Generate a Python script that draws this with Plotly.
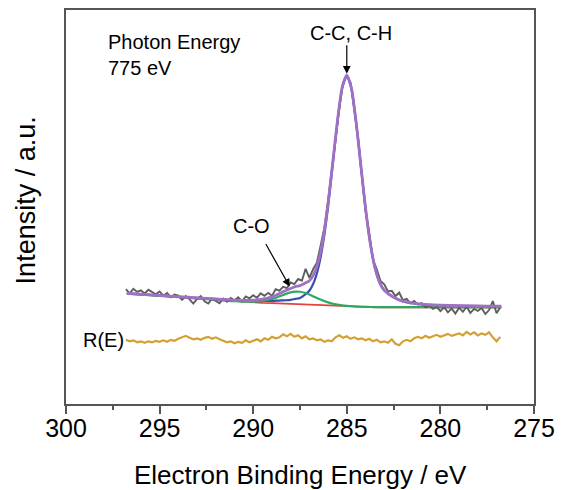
import plotly.graph_objects as go

# Measured spectrum (binding energy, eV) and intensity (a.u.)
energy = [296.8, 296.6, 296.4, 296.2, 296.0, 295.8, 295.6, 295.4, 295.2, 295.0,
          294.8, 294.6, 294.4, 294.2, 294.0, 293.8, 293.6, 293.4, 293.2, 293.0,
          292.8, 292.6, 292.4, 292.2, 292.0, 291.8, 291.6, 291.4, 291.2, 291.0,
          290.8, 290.6, 290.4, 290.2, 290.0, 289.8, 289.6, 289.4, 289.2, 289.0,
          288.8, 288.6, 288.4, 288.2, 288.0, 287.8, 287.6, 287.4, 287.2, 287.0,
          286.8, 286.6, 286.4, 286.2, 286.0, 285.8, 285.6, 285.4, 285.2, 285.0,
          284.8, 284.6, 284.4, 284.2, 284.0, 283.8, 283.6, 283.4, 283.2, 283.0,
          282.8, 282.6, 282.4, 282.2, 282.0, 281.8, 281.6, 281.4, 281.2, 281.0,
          280.8, 280.6, 280.4, 280.2, 280.0, 279.8, 279.6, 279.4, 279.2, 279.0,
          278.8, 278.6, 278.4, 278.2, 278.0, 277.8, 277.6, 277.4, 277.2, 277.0,
          276.8]

measured = [115.4, 111.1, 115.8, 112.6, 114.3, 111.1, 114.8, 112.6, 110.3, 113.1,
            108.9, 111.6, 107.4, 110.1, 108.9, 104.7, 108.4, 105.2, 100.9, 105.7,
            108.5, 103.2, 101.0, 105.8, 103.5, 101.3, 106.0, 102.8, 106.5, 104.2,
            107.2, 103.1, 108.1, 106.2, 109.3, 106.7, 111.2, 108.8, 111.7, 108.7,
            115.3, 114.0, 117.8, 116.5, 122.1, 120.5, 125.6, 123.9, 135.8, 126.8,
            135.4, 142.0, 159.0, 176.9, 204.6, 234.6, 269.9, 297.2, 323.0, 329.6,
            323.0, 294.5, 268.0, 230.3, 194.1, 171.9, 145.1, 135.3, 123.7, 120.3,
            113.1, 113.7, 108.5, 111.9, 104.3, 105.7, 101.1, 103.5, 99.9, 101.3,
            97.1, 98.9, 95.7, 97.5, 93.3, 97.2, 92.1, 96.0, 90.9, 96.8,
            92.7, 97.7, 91.6, 95.6, 93.5, 96.5, 90.4, 94.4, 103.4, 91.3,
            97.3]

residual = [64.5, 63, 64, 62, 63, 61.5, 63, 62, 63.5, 62.5,
            64, 62.5, 64.5, 63.5, 65.5, 67, 68.5, 66.5, 65, 66,
            64.5, 66.5, 67.5, 65.5, 67, 65, 63.5, 62, 63, 61,
            62.5, 61.5, 64, 62, 63.5, 65, 63, 66, 64.5, 67.5,
            66, 67, 70, 68, 70.5, 67.5, 69, 66, 68, 65,
            66, 64, 65, 62.5, 64, 63, 67, 69, 66.5, 68,
            65.5, 67, 65, 66, 64, 65.5, 63, 64.5, 62, 63,
            61.5, 65, 60.5, 59, 63, 64.5, 63, 66, 67.5, 66,
            68.5, 66.5, 68, 69.5, 67.5, 69, 70.5, 68.5, 70, 71,
            69, 72.5, 70, 72, 69, 71, 69.5, 72, 67, 63,
            67.5]

# Fit curves
fit_energy = [296.75, 296.0, 295.0, 294.0, 293.0, 292.0, 291.0, 290.5, 290.0, 289.5,
              289.0, 288.75, 288.5, 288.25, 288.0, 287.75, 287.5, 287.25, 287.0, 286.75,
              286.5, 286.25, 286.0, 285.75, 285.5, 285.25, 285.0, 284.75, 284.5, 284.25,
              284.0, 283.75, 283.5, 283.25, 283.0, 282.5, 282.0, 281.0, 280.0, 279.0,
              278.0, 277.0, 276.75]

fit_background = [111.0, 110.0, 108.7, 107.3, 106.0, 104.6, 103.0, 102.5, 102.0, 101.7,
                  101.4, 101.2, 101.1, 100.9, 100.8, 100.6, 100.4, 100.2, 100.0, 99.7,
                  99.5, 99.2, 99.0, 98.7, 98.5, 98.2, 98.0, 97.8, 97.6, 97.5,
                  97.4, 97.3, 97.2, 97.2, 97.2, 97.2, 97.2, 97.2, 97.2, 97.2,
                  97.2, 97.2, 97.2]

fit_cc = [111.3, 110.3, 109.1, 107.8, 106.6, 105.4, 104.0, 103.7, 103.5, 103.5,
          103.6, 103.8, 104.1, 104.3, 104.7, 105.6, 106.6, 109.7, 113.8, 122.7,
          138.5, 163.7, 198.5, 240.7, 283.5, 317.2, 330.0, 316.8, 282.6, 239.5,
          196.9, 161.8, 137.2, 122.2, 114.2, 107.2, 103.2, 100.2, 99.2, 98.7,
          98.4, 98.2, 98.2]

fit_co = [111.0, 110.0, 108.7, 107.4, 106.1, 104.75, 103.25, 102.9, 102.8, 103.6,
          105.5, 107.1, 108.9, 110.7, 112.2, 112.9, 112.8, 111.8, 110.0, 107.8,
          105.7, 103.7, 102.1, 100.8, 99.9, 99.1, 98.6, 98.25, 97.95, 97.75,
          97.6, 97.5, 97.4, 97.4, 97.35, 97.3, 97.3, 97.3, 97.2, 97.2,
          97.2, 97.2, 97.2]

fit_total = [111.3, 110.3, 109.1, 107.9, 106.7, 105.55, 104.25, 104.1, 104.3, 105.4,
             107.7, 109.7, 111.9, 114.1, 116.1, 117.9, 119.0, 121.3, 123.8, 130.8,
             144.7, 168.2, 201.6, 242.8, 284.9, 318.1, 330.6, 317.25, 282.9, 239.8,
             197.1, 161.9, 137.3, 122.3, 114.3, 107.3, 103.3, 100.3, 99.3, 98.8,
             98.5, 98.3, 98.3]

x_ticks = [300, 295, 290, 285, 280, 275]

FONT = "Arial, Liberation Sans, sans-serif"

fig = go.Figure()
fig.add_trace(go.Scatter(x=fit_energy, y=fit_background, mode="lines",
                         line=dict(color="#e8413c", width=1.8)))
fig.add_trace(go.Scatter(x=fit_energy, y=fit_cc, mode="lines",
                         line=dict(color="#3350b0", width=2.2, shape="spline", smoothing=0.6)))
fig.add_trace(go.Scatter(x=fit_energy, y=fit_co, mode="lines",
                         line=dict(color="#2eaa60", width=2.2, shape="spline", smoothing=0.6)))
fig.add_trace(go.Scatter(x=energy, y=measured, mode="lines",
                         line=dict(color="#5e5e5e", width=1.9)))
fig.add_trace(go.Scatter(x=fit_energy, y=fit_total, mode="lines",
                         line=dict(color="#a070c4", width=2.8, shape="spline", smoothing=0.6)))
fig.add_trace(go.Scatter(x=energy, y=residual, mode="lines",
                         line=dict(color="#d4a032", width=2.2)))

annots = [
    dict(text="Photon Energy", x=297.85, y=363.5, xref="x", yref="y",
         xanchor="left", yanchor="middle", showarrow=False, font=dict(size=20)),
    dict(text="775 eV", x=297.85, y=338, xref="x", yref="y",
         xanchor="left", yanchor="middle", showarrow=False, font=dict(size=20)),
    dict(text="C-C, C-H", x=284.8, y=372.5, xref="x", yref="y",
         xanchor="center", yanchor="middle", showarrow=False, font=dict(size=20)),
    dict(text="C-O", x=290.07, y=179, xref="x", yref="y",
         xanchor="center", yanchor="middle", showarrow=False, font=dict(size=20)),
    dict(text="R(E)", x=298.02, y=64, xref="x", yref="y",
         xanchor="center", yanchor="middle", showarrow=False, font=dict(size=20)),
    # arrows
    dict(text="", x=285.0, y=332, ax=285.0, ay=362, xref="x", yref="y",
         axref="x", ayref="y", showarrow=True, arrowhead=2, arrowsize=1.3,
         arrowwidth=1.2, arrowcolor="black"),
    dict(text="", x=288.05, y=118, ax=289.37, ay=162.3, xref="x", yref="y",
         axref="x", ayref="y", showarrow=True, arrowhead=2, arrowsize=1.3,
         arrowwidth=1.2, arrowcolor="black"),
    # axis titles
    dict(text="Electron Binding Energy / eV", x=0.5, y=-0.179, xref="paper", yref="paper",
         xanchor="center", yanchor="middle", showarrow=False, font=dict(size=26)),
    dict(text="Intensity / a.u.", x=-0.0847, y=0.5177, xref="paper", yref="paper",
         xanchor="center", yanchor="middle", showarrow=False, textangle=-90,
         font=dict(size=27)),
]

fig.update_layout(
    width=563, height=490,
    margin=dict(l=66, r=25, t=8, b=86),
    paper_bgcolor="white", plot_bgcolor="white",
    showlegend=False,
    font=dict(family=FONT, color="black"),
    annotations=annots,
)
fig.update_xaxes(range=[300, 275], tickvals=x_ticks, ticktext=[str(t) for t in x_ticks],
                 ticks="outside", ticklen=8, tickwidth=1.5, tickcolor="#555555",
                 ticklabelstandoff=-7,
                 minor=dict(ticks="outside", ticklen=4, tickwidth=1.5, tickcolor="#555555",
                            dtick=2.5, tick0=275),
                 showline=True, linecolor="#555555", linewidth=1.8, mirror=True,
                 showgrid=False, zeroline=False, tickfont=dict(size=25, family=FONT))
fig.update_yaxes(range=[0, 396], showticklabels=False, ticks="",
                 showline=True, linecolor="#555555", linewidth=1.8, mirror=True,
                 showgrid=False, zeroline=False)

fig.write_html("out.html")
